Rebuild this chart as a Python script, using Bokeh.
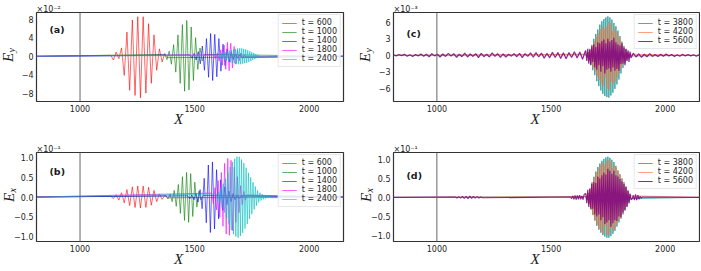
import numpy as np
from bokeh.plotting import figure
from bokeh.models import (Range1d, FixedTicker, Span, Label, Legend, LegendItem,
                          CustomJSTickFormatter, Title)
from bokeh.layouts import row, column
from bokeh.embed import file_html
from bokeh.resources import INLINE

# ---------------- data ----------------
X_MIN, X_MAX = 810, 2150
X_TICKS = [1000, 1500, 2000]
X_MARK = 1000

# each wave packet: (first extremum x, spacing of extrema, successive extrema)
# panel (a): E_y in units of 1e-2
A_TIMES = ["600", "1000", "1400", "1800", "2400"]
A_T600 = (1134, 11.8, [0.2, -0.8, 0.9, -0.5, 1.8, -4.1, 5.2, -7.3, 7.8, -8.4, 8.5,
                       -8.9, 8.5, -7.9, 7.0, -5.8, 4.6, -3.0, 1.6, -1.2, 0.6, -0.3])
A_T1000 = (1370, 9.6, [0.4, -0.7, 1.1, -1.7, 2.5, -3.4, 4.6, -5.8, 6.8, -7.5, 7.7,
                       -7.2, 6.3, -5.2, 4.0, -2.8, 1.8, -1.0, 0.4])
A_T1400 = (1480, 9.0, [0.3, -0.4, 0.6, -0.8, 1.0, -1.6, 2.2, -3.0, 3.8, -4.5, 4.9,
                       -5.2, 4.7, -4.4, 3.8, -3.2, 2.6, -2.0, 1.6, -1.2, 0.9, -0.7,
                       0.5, -0.4, 0.3, -0.2])
A_T1800 = (1585, 7.3, [0.3, -0.5, 0.7, -1.0, 1.4, -1.9, 2.4, -2.8, 3.0, -3.1, 2.8,
                       -2.5, 2.1, -1.7, 1.3, -1.0, 0.7, -0.5, 0.3, -0.2])
A_T2400 = (1600, 4.4, [0.2, -0.3, 0.4, -0.5, 0.6, -0.6, 0.7, -0.8, 0.9, -0.9, 1.0,
                       -1.1, 1.2, -1.3, 1.3, -1.4, 1.5, -1.5, 1.6, -1.6, 1.7, -1.7,
                       1.7, -1.7, 1.7, -1.6, 1.6, -1.5, 1.5, -1.4, 1.3, -1.2, 1.1,
                       -1.0, 0.9, -0.8, 0.7, -0.6, 0.5, -0.4, 0.3, -0.2, 0.15, -0.1])
A_YTICKS = [-8, -4, 0, 4, 8]

# panel (b): E_x in units of 1e-1
B_T600 = (1134, 11.8, [0.02, -0.04, 0.06, -0.08, 0.11, -0.15, 0.19, -0.22, 0.26, -0.27,
                       0.28, -0.28, 0.28, -0.27, 0.25, -0.21, 0.17, -0.12, 0.08, -0.06,
                       0.04, -0.02])
B_T1000 = (1375, 9.0, [0.03, -0.05, 0.08, -0.12, 0.17, -0.24, 0.32, -0.42, 0.52, -0.60,
                       0.63, -0.65, 0.60, -0.50, 0.38, -0.26, 0.15, -0.08, 0.04])
B_T1400 = (1470, 9.0, [0.03, -0.04, 0.05, -0.07, 0.09, -0.13, 0.19, -0.30, 0.48, -0.66,
                       0.82, -0.91, 0.90, -0.82, 0.70, -0.56, 0.44, -0.34, 0.26, -0.20,
                       0.15, -0.12, 0.09, -0.07, 0.05, -0.04, 0.03])
B_T1800 = (1575, 7.0, [0.10, -0.17, 0.24, -0.33, 0.42, -0.52, 0.63, -0.75, 0.86, -0.95,
                       0.99, -0.98, 0.94, -0.86, 0.77, -0.65, 0.52, -0.40, 0.29, -0.20,
                       0.14, -0.08, 0.05])
B_T2400 = (1595, 5.0, [0.08, -0.10, 0.13, -0.16, 0.22, -0.28, 0.34, -0.40, 0.47, -0.55,
                       0.62, -0.70, 0.77, -0.85, 0.90, -0.95, 0.98, -1.01, 1.03, -1.04,
                       1.03, -1.00, 0.96, -0.92, 0.87, -0.81, 0.75, -0.69, 0.62, -0.56,
                       0.50, -0.44, 0.38, -0.32, 0.27, -0.22, 0.17, -0.14, 0.11, -0.09,
                       0.07, -0.06, 0.05, -0.04, 0.04, -0.03, 0.03, -0.02])
B_YTICKS = [-1.0, -0.5, 0.0, 0.5, 1.0]

# panel (c): E_y in units of 1e-3
C_TIMES = ["3800", "4200", "5600"]
C_T3800 = (1652, 4.4, [0.1, -0.3, 0.6, -1.0, 1.2, -1.7, 1.9, -2.7, 3.0, -3.6, 3.9, -4.7,
                       4.7, -5.6, 5.6, -6.4, 6.2, -7.0, 6.6, -7.4, 6.9, -7.6, 7.1, -7.7,
                       6.9, -7.3, 6.5, -6.8, 5.9, -6.1, 5.3, -5.3, 4.5, -4.4, 3.5, -3.3,
                       2.5, -2.3, 1.7, -1.5, 1.1, -0.9, 0.6, -0.5, 0.3, -0.1])
C_T4200 = (1654, 4.4, [0.2, -0.4, 0.6, -0.8, 1.1, -1.4, 1.8, -2.2, 2.6, -3.0, 3.4, -3.8,
                       4.1, -4.5, 4.8, -5.1, 5.3, -5.6, 4.8, -4.0, 5.2, -6.0, 6.1, -6.3,
                       5.8, -4.8, 4.4, -5.2, 5.0, -4.8, 4.3, -4.0, 3.6, -3.2, 2.8, -2.4,
                       2.0, -1.7, 1.4, -1.1, 0.8, -0.6, 0.4, -0.3, 0.2])
C_T5600_PRE = (810, 12.0, [0.1, -0.1, 0.15, -0.05, 0.2, -0.15, 0.1, -0.2, 0.15, -0.1,
                           0.25, -0.15, 0.2, -0.25, 0.3, -0.1, 0.2, -0.3, 0.25, -0.2,
                           0.35, -0.15, 0.3, -0.35, 0.2, -0.25, 0.4, -0.3, 0.25, -0.2,
                           0.3, -0.4, 0.35, -0.25, 0.2, -0.3, 0.45, -0.2, 0.3, -0.35,
                           0.25, -0.3, 0.2, -0.15, 0.3, -0.25, 0.35, -0.4, 0.3, -0.2,
                           0.45, -0.35, 0.5, -0.3, 0.4, -0.5, 0.35, -0.45, 0.55, -0.4,
                           0.5, -0.55, 0.45, -0.6, 0.5, -0.4, 0.65, -0.5, 0.6, -0.7, 0.8])
C_T5600_PKT = (1652, 4.4, [0.8, -1.0, 1.2, -1.5, 1.0, -1.8, 1.6, -1.2, 2.0, -2.2, 1.5, -2.6,
                           2.4, -1.8, 2.2, -3.0, 2.6, -2.0, 2.9, -3.3, 2.2, -2.6, 3.0, -2.4,
                           2.5, -3.0, 2.8, -2.2, 3.2, -2.8, 2.4, -2.5, 2.0, -2.8, 1.8, -1.6,
                           2.2, -1.5, 1.4, -1.8, 1.2, -1.0, 0.9, -1.2, 0.7, -0.5])
C_T5600_POST = (1860, 12.0, [0.4, -0.3, 0.25, -0.35, 0.2, -0.25, 0.3, -0.2, 0.15, -0.2,
                             0.2, -0.15, 0.25, -0.1, 0.15, -0.2, 0.1, -0.15, 0.2, -0.1,
                             0.15, -0.1, 0.1, -0.15, 0.1])
C_YTICKS = [-6, -3, 0, 3, 6]

# panel (d): E_x in units of 1e-1
D_T3800 = (1652, 4.4, [0.02, -0.06, 0.10, -0.16, 0.23, -0.31, 0.39, -0.46, 0.54, -0.61,
                       0.68, -0.75, 0.80, -0.85, 0.89, -0.93, 0.96, -0.99, 1.01, -1.03,
                       1.05, -1.06, 1.07, -1.06, 1.04, -1.02, 0.99, -0.96, 0.93, -0.88,
                       0.83, -0.77, 0.71, -0.66, 0.61, -0.56, 0.50, -0.45, 0.40, -0.35,
                       0.29, -0.24, 0.18, -0.13, 0.08, -0.03])
D_T4200 = (1654, 4.4, [0.02, -0.07, 0.12, -0.18, 0.25, -0.33, 0.40, -0.47, 0.54, -0.60,
                       0.66, -0.72, 0.77, -0.82, 0.86, -0.90, 0.92, -0.95, 0.85, -0.75,
                       0.96, -0.99, 0.98, -0.97, 0.95, -0.80, 0.78, -0.90, 0.86, -0.82,
                       0.77, -0.72, 0.67, -0.62, 0.57, -0.52, 0.47, -0.42, 0.36, -0.31,
                       0.25, -0.20, 0.14, -0.09, 0.04])
D_T5600_A = (1080, 8.0, [0.01, -0.015, 0.02, -0.02, 0.025, -0.025, 0.025, -0.03, 0.03,
                         -0.025, 0.025, -0.02, 0.02, -0.015, 0.01, -0.01])
D_T5600_B = (1585, 5.0, [0.01, -0.03, 0.04, -0.05, 0.05, -0.06, 0.05, -0.05, 0.06, -0.05,
                         0.04, -0.06, 0.08])
D_T5600_PKT = (1652, 4.4, [0.1, -0.15, 0.2, -0.25, 0.22, -0.3, 0.35, -0.3, 0.4, -0.45,
                           0.38, -0.5, 0.55, -0.45, 0.5, -0.6, 0.58, -0.52, 0.65, -0.7,
                           0.6, -0.66, 0.75, -0.6, 0.7, -0.77, 0.62, -0.68, 0.7, -0.6,
                           0.58, -0.62, 0.55, -0.5, 0.48, -0.52, 0.42, -0.4, 0.35, -0.33,
                           0.27, -0.25, 0.18, -0.16, 0.1, -0.06])
D_T5600_C = (1855, 5.0, [-0.04, 0.05, -0.07, 0.08, -0.07, 0.06, -0.05, 0.03, -0.02, 0.01])

# ---------------- styling ----------------
COLORS_AB = ["#ff0000", "#008000", "#0000ff", "#ff00ff", "#00bfbf"]
ALPHAS_AB = [0.6, 0.6, 0.6, 0.6, 0.6]
COLORS_CD = ["#008b8b", "#ff7f50", "#800080"]
ALPHAS_CD = [0.7, 0.75, 0.85]

TICK_FONT = "DejaVu Sans"
LABEL_FONT = "Liberation Serif"
INK = "#1a1a1a"


def trace(*segments):
    xs, ys = [X_MIN], [0.0]
    for start, step, vals in segments:
        for i, v in enumerate(vals):
            xs.append(start + step * i)
            ys.append(v)
    xs.append(X_MAX)
    ys.append(0.0)
    return xs, ys


def make_panel(width, height, left, right, top, bottom, ylim, yticks, decimals):
    p = figure(width=width, height=height, output_backend="svg", toolbar_location=None,
               x_range=Range1d(X_MIN, X_MAX), y_range=Range1d(*ylim),
               min_border_left=left, min_border_right=right,
               min_border_top=top, min_border_bottom=bottom)
    p.title.visible = False
    p.grid.visible = False
    p.outline_line_color = "#333333"
    p.outline_line_width = 1.2
    p.background_fill_color = "white"
    p.border_fill_color = "white"
    for ax in (p.xaxis[0], p.yaxis[0]):
        ax.axis_line_color = None
        ax.major_tick_out = 0
        ax.major_tick_in = 0
        ax.minor_tick_line_color = None
        ax.major_label_text_font = TICK_FONT
        ax.major_label_text_font_size = "8px"
        ax.major_label_text_color = "#262626"
        ax.major_label_standoff = 3
    p.xaxis.ticker = FixedTicker(ticks=X_TICKS)
    p.yaxis.ticker = FixedTicker(ticks=yticks)
    p.yaxis.formatter = CustomJSTickFormatter(
        args=dict(d=decimals),
        code="return (tick < 0 ? '\\u2212' : '') + Math.abs(tick).toFixed(d);")
    p.add_layout(Span(location=X_MARK, dimension="height", line_color="#666666",
                      line_width=1))
    return p


def decorate(p, fw, fh, letter, letter_drop, power, sub, sub_standoff, e_standoff):
    # scale factor above the frame
    p.add_layout(Title(text=power, align="left", offset=0, vertical_align="bottom",
                       standoff=-3, text_font=TICK_FONT, text_font_size="8px",
                       text_font_style="normal", text_color="#262626"), "above")
    # x axis label
    p.add_layout(Title(text="X", align="left", offset=fw / 2 - 16, vertical_align="top",
                       standoff=-8, text_font=LABEL_FONT, text_font_size="15px",
                       text_font_style="italic", text_color=INK), "below")
    # y axis label: subscript (inner) then the E (outer)
    p.add_layout(Title(text=sub, align="left", offset=fh / 2 + 4.6, vertical_align="bottom",
                       standoff=sub_standoff, text_font=LABEL_FONT, text_font_size="10px",
                       text_font_style="italic", text_color=INK), "left")
    p.add_layout(Title(text="E", align="left", offset=fh / 2 - 5.1, vertical_align="bottom",
                       standoff=e_standoff, text_font=LABEL_FONT, text_font_size="15px",
                       text_font_style="italic", text_color=INK), "left")
    # panel letter inside the frame
    p.add_layout(Label(x=13, y=fh - letter_drop, x_units="screen", y_units="screen",
                       text=letter, text_font=TICK_FONT, text_font_size="9.5px",
                       text_font_style="bold", text_color=INK,
                       text_baseline="top", text_align="left"))


def add_series(p, series, times, colors, alphas, widths):
    items = []
    for segs, t, c, a, w in zip(series, times, colors, alphas, widths):
        xs, ys = trace(*segs)
        r = p.line(xs, ys, line_color=c, line_alpha=a, line_width=w)
        items.append(LegendItem(label="t = " + t, renderers=[r]))
    leg = Legend(items=items, location="top_right", label_text_font=TICK_FONT,
                 label_text_font_size="8px", label_text_color="#262626",
                 glyph_width=15, glyph_height=8, label_height=8, label_standoff=5,
                 spacing=0, padding=3, margin=2,
                 border_line_color="#d0d0d0", border_line_width=1,
                 background_fill_color="white", background_fill_alpha=0.85)
    p.add_layout(leg)


# ---------------- panels ----------------
LW, RW = 355, 345
TH, BH = 140, 130
LFW, RFW = LW - 36 - 12, RW - 38 - 1
TFH, BFH = TH - 12 - 39, BH - 12 - 29

pa = make_panel(LW, TH, 36, 12, 12, 39, (-9.7, 9.4), A_YTICKS, 0)
add_series(pa, [[A_T600], [A_T1000], [A_T1400], [A_T1800], [A_T2400]], A_TIMES,
           COLORS_AB, ALPHAS_AB, [1, 1, 1, 1, 1])
decorate(pa, LFW, TFH, "(a)", 11.5, "×10⁻²", "y", 3, -27)

pb = make_panel(LW, BH, 36, 12, 12, 29, (-1.14, 1.14), B_YTICKS, 1)
add_series(pb, [[B_T600], [B_T1000], [B_T1400], [B_T1800], [B_T2400]], A_TIMES,
           COLORS_AB, ALPHAS_AB, [1, 1, 1, 1, 1])
decorate(pb, LFW, BFH, "(b)", 13.5, "×10⁻¹", "x", -12, -12)

pc = make_panel(RW, TH, 38, 1, 12, 39, (-8.4, 7.8), C_YTICKS, 0)
add_series(pc, [[C_T3800], [C_T4200], [C_T5600_PRE, C_T5600_PKT, C_T5600_POST]], C_TIMES,
           COLORS_CD, ALPHAS_CD, [1, 1, 1.2])
decorate(pc, RFW, TFH, "(c)", 15.5, "×10⁻³", "y", 3, -27)

pd = make_panel(RW, BH, 38, 1, 12, 29, (-1.16, 1.18), B_YTICKS, 1)
add_series(pd, [[D_T3800], [D_T4200], [D_T5600_A, D_T5600_B, D_T5600_PKT, D_T5600_C]],
           C_TIMES, COLORS_CD, ALPHAS_CD, [1, 1, 1.2])
decorate(pd, RFW, BFH, "(d)", 17.5, "×10⁻¹", "x", -12, -12)

layout = row(column(pa, pb), column(pc, pd))
open("out.html", "w").write(file_html(layout, INLINE))
